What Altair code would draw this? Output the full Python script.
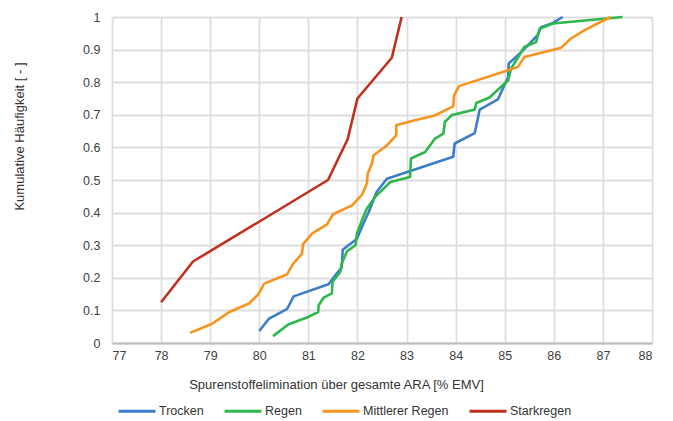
import altair as alt
import pandas as pd

# Cumulative frequency of micropollutant removal per weather class
series_names = ["Trocken", "Regen", "Mittlerer Regen", "Starkregen"]
series_colors = ["#3a7dc9", "#2eb84b", "#f7941e", "#c0301c"]

trocken_x = [80.0, 80.2, 80.57, 80.7, 81.41, 81.55, 81.68, 81.7, 81.99, 82.09, 82.23, 82.39, 82.6,
             83.95, 83.98, 84.39, 84.49, 84.86, 85.07, 85.08, 85.34, 85.67, 85.74, 85.98, 86.18]
trocken_y = [0.037, 0.075, 0.105, 0.143, 0.18, 0.208, 0.231, 0.286, 0.32, 0.356, 0.402, 0.463, 0.504,
             0.571, 0.612, 0.644, 0.716, 0.747, 0.816, 0.857, 0.893, 0.944, 0.969, 0.982, 1.0]

regen_x = [80.28, 80.59, 80.97, 81.2, 81.21, 81.31, 81.48, 81.49, 81.65, 81.68, 81.79, 81.96, 81.99,
           82.09, 82.19, 82.36, 82.46, 82.67, 83.07, 83.09, 83.38, 83.58, 83.75, 83.78, 83.92, 84.39,
           84.42, 84.69, 85.07, 85.13, 85.4, 85.64, 85.71, 85.98, 87.4]
regen_y = [0.021, 0.057, 0.078, 0.095, 0.116, 0.139, 0.152, 0.187, 0.218, 0.244, 0.282, 0.3, 0.336,
           0.376, 0.412, 0.448, 0.463, 0.494, 0.509, 0.566, 0.586, 0.627, 0.642, 0.678, 0.699, 0.716,
           0.736, 0.753, 0.806, 0.842, 0.908, 0.923, 0.964, 0.98, 1.0]

mittel_x = [78.59, 79.05, 79.39, 79.79, 79.98, 80.1, 80.57, 80.68, 80.87, 80.89, 81.08, 81.38, 81.5,
            81.89, 82.1, 82.19, 82.21, 82.29, 82.33, 82.6, 82.79, 82.79, 83.17, 83.58, 83.95, 83.97,
            84.07, 85.17, 85.27, 85.4, 86.15, 86.35, 86.62, 86.89, 87.16]
mittel_y = [0.031, 0.06, 0.095, 0.121, 0.149, 0.182, 0.211, 0.241, 0.274, 0.303, 0.336, 0.364, 0.395,
            0.422, 0.456, 0.489, 0.52, 0.548, 0.576, 0.606, 0.637, 0.668, 0.683, 0.698, 0.726, 0.76,
            0.788, 0.842, 0.847, 0.877, 0.906, 0.934, 0.959, 0.98, 1.0]

stark_x = [78.0, 78.65, 80.03, 81.4, 81.8, 82.0, 82.7, 82.9]
stark_y = [0.125, 0.25, 0.375, 0.5, 0.625, 0.75, 0.875, 1.0]

x_ticks = list(range(77, 89))
y_ticks = [0, 0.1, 0.2, 0.3, 0.4, 0.5, 0.6, 0.7, 0.8, 0.9, 1]

rows = []
for name, xs, ys in zip(series_names,
                        [trocken_x, regen_x, mittel_x, stark_x],
                        [trocken_y, regen_y, mittel_y, stark_y]):
    for i, (xv, yv) in enumerate(zip(xs, ys)):
        rows.append({"Serie": name, "x": xv, "y": yv, "i": i})
df = pd.DataFrame(rows)

FONT = "Liberation Sans Narrow, Arial Narrow, Liberation Sans"

chart = alt.Chart(df).mark_line(strokeWidth=2.6, strokeJoin="round").encode(
    x=alt.X("x:Q",
            scale=alt.Scale(domain=[77, 88], nice=False, zero=False),
            axis=alt.Axis(values=x_ticks, format="d",
                          title="Spurenstoffelimination über gesamte ARA [% EMV]",
                          titleX=224, titleAlign="center", titlePadding=17)),
    y=alt.Y("y:Q",
            scale=alt.Scale(domain=[0, 1], nice=False),
            axis=alt.Axis(values=y_ticks, format="~g",
                          title="Kumulative Häufigkeit [ - ]",
                          titleY=119, titleAlign="center", titlePadding=56)),
    color=alt.Color("Serie:N",
                    scale=alt.Scale(domain=series_names, range=series_colors),
                    legend=alt.Legend(title=None, orient="none", direction="horizontal",
                                      legendX=5, legendY=374,
                                      symbolType="stroke", symbolSize=1369,
                                      symbolStrokeWidth=3, columnPadding=14,
                                      labelOffset=2, labelFontSize=12.5,
                                      labelFont=FONT, labelColor="#333333")),
    order=alt.Order("i:Q"),
).properties(
    width=540, height=326,
    padding={"left": 112, "top": 17, "right": 21, "bottom": 78},
    autosize="none",
).configure_view(
    stroke=None
).configure_axis(
    grid=True, gridColor="#dedede", gridWidth=1.8,
    ticks=False, domain=False,
    labelFont=FONT, labelFontSize=12.5, labelColor="#404040",
    titleFont=FONT, titleFontSize=13, titleFontWeight="normal", titleColor="#333333",
).configure_axisX(
    domain=True, domainColor="#bdbdbd", domainWidth=1.8, labelPadding=6,
).configure_axisY(
    labelPadding=12,
)

chart.save("out.html", embed_options={"renderer": "svg", "actions": False})
